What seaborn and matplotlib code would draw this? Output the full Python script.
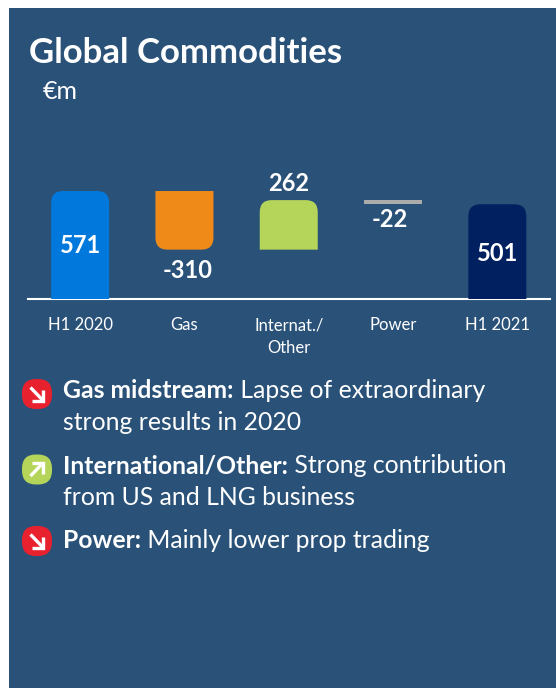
import matplotlib
matplotlib.use("Agg")
import matplotlib.pyplot as plt
import seaborn as sns
import pandas as pd
from matplotlib.patches import FancyBboxPatch, PathPatch, Rectangle
from matplotlib.path import Path

# dados
categorias = ["H1 2020", "Gas", "Internat./\nOther", "Power", "H1 2021"]
valores = [571, -310, 262, -22, 501]
totais = [True, False, False, False, True]
cores = ["#0078DC", "#EF8A19", "#B5D55A", "#ABABAB", "#00205F"]
rotulos = ["571", "-310", "262", "-22", "501"]

titulo = "Global Commodities"
unidade = "€m"
bullets = [
    ("down", "Gas midstream:", " Lapse of extraordinary", "strong results in 2020"),
    ("up", "International/Other:", " Strong contribution", "from US and LNG business"),
    ("down", "Power:", " Mainly lower prop trading", None),
]

W, H = 556, 688
FUNDO = "#2A5279"
sns.set_style("white")
plt.rcParams["font.family"] = ["Lato", "DejaVu Sans"]

fig = plt.figure(figsize=(W / 100, H / 100), dpi=100, facecolor="white")

# fundo em coordenadas de pixel
bg = fig.add_axes([0, 0, 1, 1], zorder=0)
bg.set_xlim(0, W)
bg.set_ylim(H, 0)
bg.axis("off")
bg.add_patch(Rectangle((9, 8), W - 9, H - 8, facecolor=FUNDO, edgecolor="none"))

# waterfall: base de cada barra
bases = []
acum = 0
for v, t in zip(valores, totais):
    if t:
        bases.append(0)
        acum = v
    else:
        bases.append(acum if v > 0 else acum + v)
        acum += v
alturas = [abs(v) for v in valores]

df = pd.DataFrame({"cat": categorias, "altura": alturas})

# eixo: baseline em y=299, 0.1891 px por unidade
ymax = 299 / 0.1891
ax = fig.add_axes([28 / W, 1 - 299 / H, 521.5 / W, 299 / H], zorder=1)
ax.patch.set_alpha(0)
sns.barplot(data=df, x="cat", y="altura", hue="cat", palette=cores, legend=False, width=0.556,
            ax=ax, saturation=1, linewidth=0)
ax.set_xlim(-0.5, 4.5)
ax.set_ylim(0, ymax)
ax.set_xlabel("")
ax.set_ylabel("")
ax.set_yticks([])
ax.set_xticks(range(5))
ax.set_xticklabels(categorias, color="white", fontsize=12, linespacing=1.5)
ax.tick_params(axis="x", length=0, pad=13)
for s in ["top", "left", "right"]:
    ax.spines[s].set_visible(False)
ax.spines["bottom"].set_color("white")
ax.spines["bottom"].set_linewidth(1.5)

# sobe as barras flutuantes e arredonda os cantos
rx = 12 / (521.5 / 5)
ry = 12 / 0.1891
for p in list(ax.patches):
    i = round(p.get_x() + p.get_width() / 2)
    v = valores[i]
    p.set_y(bases[i])
    x0, y0 = p.get_x(), p.get_y()
    x1, y1 = x0 + p.get_width(), y0 + p.get_height()
    if abs(v) < 50:
        continue
    if v > 0:
        verts = [(x0, y0), (x0, y1 - ry), (x0, y1), (x0 + rx, y1), (x1 - rx, y1), (x1, y1), (x1, y1 - ry),
                 (x1, y0), (x0, y0)]
    else:
        verts = [(x0, y1), (x0, y0 + ry), (x0, y0), (x0 + rx, y0), (x1 - rx, y0), (x1, y0), (x1, y0 + ry),
                 (x1, y1), (x0, y1)]
    codes = [Path.MOVETO, Path.LINETO, Path.CURVE3, Path.CURVE3, Path.LINETO, Path.CURVE3, Path.CURVE3,
             Path.LINETO, Path.CLOSEPOLY]
    ax.add_patch(PathPatch(Path(verts, codes), facecolor=p.get_facecolor(), edgecolor="none", zorder=3))
    p.set_visible(False)

# rotulos das barras (ajuste fino em pontos)
desloc = [(0.5, -0.5), (2, -7), (0, 4), (-2, -3), (0, -1.5)]
for i, (v, r) in enumerate(zip(valores, rotulos)):
    b, h = bases[i], alturas[i]
    if totais[i]:
        ref, va = b + h / 2, "center"
    elif v > 0:
        ref, va = b + h, "bottom"
    else:
        ref, va = b, "top"
    ax.annotate(r, (i, ref), xytext=desloc[i], textcoords="offset points", color="white", fontsize=17,
                fontweight="bold", ha="center", va=va, zorder=4)

# titulo
bg.text(29, 63, titulo, color="white", fontsize=25, fontweight="bold", ha="left", va="baseline")
bg.text(43, 99, unidade, color="white", fontsize=18, ha="left", va="baseline")

# bullets
linhas_y = [(398, 430), (473, 505), (548, None)]
icones_y = [394, 469.5, 541]
renderer = fig.canvas.get_renderer()
for (tipo, neg, resto, l2), (y1, y2), iy in zip(bullets, linhas_y, icones_y):
    cor = "#E8212F" if tipo == "down" else "#B5D55A"
    bg.add_patch(FancyBboxPatch((37 - 15 + 9, iy - 15 + 9), 12, 12, boxstyle="round,pad=9,rounding_size=14",
                                facecolor=cor, edgecolor="none"))
    sinal = 1 if tipo == "down" else -1
    bg.plot([30.5, 43], [iy - 6.5 * sinal, iy + 6.5 * sinal], color="white", lw=2.4, solid_capstyle="butt")
    bg.plot([32, 43, 43], [iy + 6.5 * sinal, iy + 6.5 * sinal, iy - 4 * sinal], color="white", lw=2.4,
            solid_joinstyle="miter", solid_capstyle="butt")
    t = bg.text(63, y1, neg, color="white", fontsize=17.8, fontweight="bold", ha="left", va="baseline")
    bb = t.get_window_extent(renderer)
    x_fim = bg.transData.inverted().transform((bb.x1, bb.y0))[0]
    bg.text(x_fim, y1, resto, color="white", fontsize=17.8, ha="left", va="baseline")
    if l2:
        bg.text(63, y2, l2, color="white", fontsize=17.8, ha="left", va="baseline")

bg.set_xlim(0, W)
bg.set_ylim(H, 0)
fig.savefig("out.png", dpi=100)
